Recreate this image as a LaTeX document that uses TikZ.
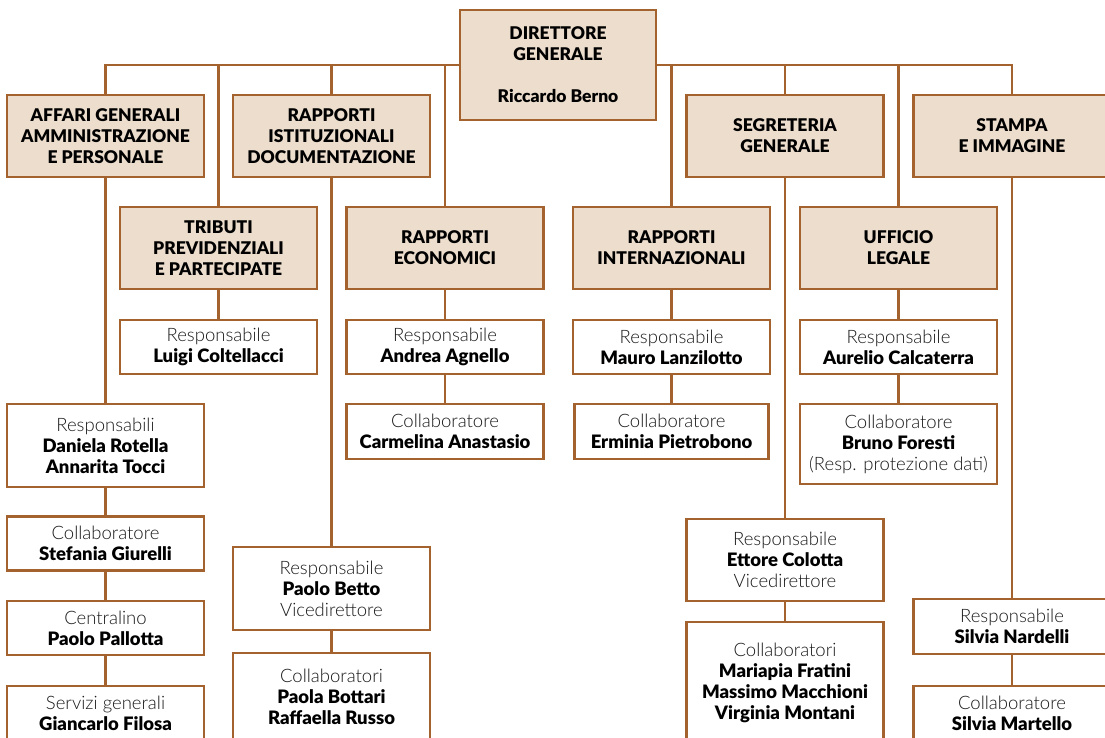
\documentclass[tikz,border=0pt]{standalone}
\usepackage{fontspec}
\setmainfont{Lato}[BoldFont={Lato Black}]
\newfontfamily\lightf{Lato Light}
\usepackage{tikz}
\usetikzlibrary{positioning}

\definecolor{brd}{HTML}{A3622E}
\definecolor{beige}{HTML}{EDDDCD}
\definecolor{txtgray}{HTML}{1A1A1A}
\newcommand\ruolo[1]{{\lightf\color{txtgray}#1}}

\begin{document}
\begin{tikzpicture}[x=1pt, y=-1pt, font=\fontsize{18.5}{21}\selectfont,
	   box/.style={draw=brd, line width=2.6pt, align=center, inner sep=0pt, minimum width=197pt},
	   unit/.style={box, fill=beige, font=\fontsize{17.5}{21}\selectfont\bfseries},
	   pers/.style={box, fill=white},
	   link/.style={draw=brd, line width=2.6pt}]
	  \clip (0,0) rectangle (1105,738);
	  % vertici
	  \node[unit, minimum width=196pt, minimum height=110pt] (dg) at (558,65) {DIRETTORE\\GENERALE\\[21pt]Riccardo Berno};
	  \node[unit, minimum height=82pt] (affari) at (105.5,136) {AFFARI GENERALI\\AMMINISTRAZIONE\\E PERSONALE};
	  \node[unit, minimum height=82pt] (rappist) at (331.5,136) {RAPPORTI\\ISTITUZIONALI\\DOCUMENTAZIONE};
	  \node[unit, minimum height=82pt] (segr) at (785,136) {SEGRETERIA\\GENERALE};
	  \node[unit, minimum height=82pt] (stampa) at (1012,136) {STAMPA\\E IMMAGINE};
	  \node[unit, minimum height=82pt] (tributi) at (218.5,248) {TRIBUTI\\PREVIDENZIALI\\E PARTECIPATE};
	  \node[unit, minimum height=82pt] (rappeco) at (445,248) {RAPPORTI\\ECONOMICI};
	  \node[unit, minimum height=82pt] (rappint) at (671.5,248) {RAPPORTI\\INTERNAZIONALI};
	  \node[unit, minimum height=82pt] (legale) at (898.5,248) {UFFICIO\\LEGALE};
	  % persone
	  \node[pers, minimum height=54pt] (resptrib) at (218.5,347) {\ruolo{Responsabile}\\\textbf{Luigi Coltellacci}};
	  \node[pers, minimum height=54pt] (respeco) at (445,347) {\ruolo{Responsabile}\\\textbf{Andrea Agnello}};
	  \node[pers, minimum height=54pt] (respint) at (671.5,347) {\ruolo{Responsabile}\\\textbf{Mauro Lanzilotto}};
	  \node[pers, minimum height=54pt] (respleg) at (898.5,347) {\ruolo{Responsabile}\\\textbf{Aurelio Calcaterra}};
	  \node[pers, minimum height=55pt] (colleco) at (445,431.5) {\ruolo{Collaboratore}\\\textbf{Carmelina Anastasio}};
	  \node[pers, minimum width=194pt, minimum height=55pt] (collint) at (671.5,431.5) {\ruolo{Collaboratore}\\\textbf{Erminia Pietrobono}};
	  \node[pers, minimum height=80pt] (collleg) at (898.5,444) {\ruolo{Collaboratore}\\\textbf{Bruno Foresti}\\\ruolo{(Resp. protezione dati)}};
	  \node[pers, minimum height=83pt] (respaff) at (105.5,445.5) {\ruolo{Responsabili}\\\textbf{Daniela Rotella}\\\textbf{Annarita Tocci}};
	  \node[pers, minimum height=54pt] (collaff) at (105.5,543.5) {\ruolo{Collaboratore}\\\textbf{Stefania Giurelli}};
	  \node[pers, minimum height=54pt] (centr) at (105.5,628) {\ruolo{Centralino}\\\textbf{Paolo Pallotta}};
	  \node[pers, minimum height=54pt] (servizi) at (105.5,713) {\ruolo{Servizi generali}\\\textbf{Giancarlo Filosa}};
	  \node[pers, minimum height=83pt] (respist) at (331.5,588.5) {\ruolo{Responsabile}\\\textbf{Paolo Betto}\\\ruolo{Vicedirettore}};
	  \node[pers, minimum height=88pt] (collist) at (331.5,697) {\ruolo{Collaboratori}\\\textbf{Paola Bottari}\\\textbf{Raffaella Russo}};
	  \node[pers, minimum height=82pt] (respsegr) at (785,560) {\ruolo{Responsabile}\\\textbf{Ettore Colotta}\\\ruolo{Vicedirettore}};
	  \node[pers, minimum height=121pt] (collsegr) at (785,682.5) {\ruolo{Collaboratori}\\\textbf{Mariapia Fratini}\\\textbf{Massimo Macchioni}\\\textbf{Virginia Montani}};
	  \node[pers, minimum height=55pt] (respst) at (1012,626.5) {\ruolo{Responsabile}\\\textbf{Silvia Nardelli}};
	  \node[pers, minimum height=55pt] (collst) at (1012,713.5) {\ruolo{Collaboratore}\\\textbf{Silvia Martello}};
	  % collegamenti
	  \draw[link] (affari.north) |- (dg.west);
	  \draw[link] (dg.east) -| (stampa.north);
	  \foreach \u in {tributi,rappist,rappeco,rappint,segr,legale}
	    \draw[link] (\u.north) -- (\u.north |- dg.west);
	  \foreach \a/\b in {affari/respaff,respaff/collaff,collaff/centr,centr/servizi,
	                     tributi/resptrib,rappist/respist,respist/collist,
	                     rappeco/respeco,respeco/colleco,rappint/respint,respint/collint,
	                     segr/respsegr,respsegr/collsegr,legale/respleg,respleg/collleg,
	                     stampa/respst,respst/collst}
	    \draw[link] (\a.south) -- (\b.north);
	\end{tikzpicture}
\end{document}
